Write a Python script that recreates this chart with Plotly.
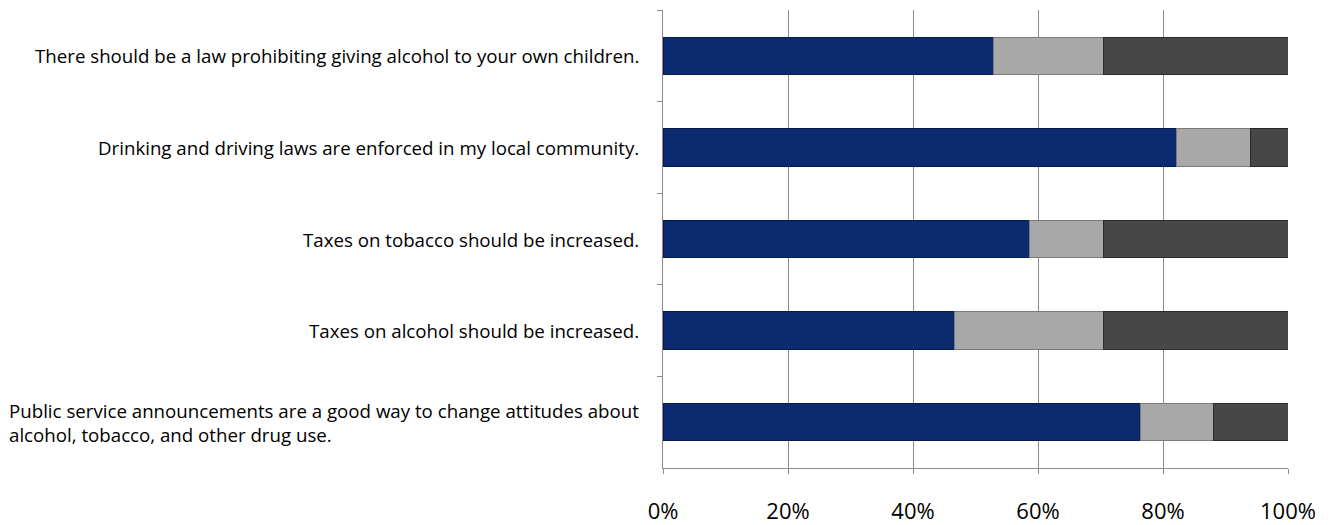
import plotly.graph_objects as go

categories = [
    "There should be a law prohibiting giving alcohol to your own children.",
    "Drinking and driving laws are enforced in my local community.",
    "Taxes on tobacco should be increased.",
    "Taxes on alcohol should be increased.",
    "Public service announcements are a good way to change attitudes about<br>alcohol, tobacco, and other drug use.",
]
series_names = ["Agree", "Neutral", "Disagree"]
agree = [52.8, 82.1, 58.6, 46.7, 76.4]
neutral = [17.6, 11.9, 11.8, 23.7, 11.7]
disagree = [29.6, 6.0, 29.6, 29.6, 11.9]
tick_vals = [0, 20, 40, 60, 80, 100]
tick_text = ["0%", "20%", "40%", "60%", "80%", "100%"]

colors = ["#0B2A6F", "#A8A8A8", "#474747"]
borders = ["#061a4a", "#7a7a7a", "#2a2a2a"]

fig = go.Figure()
for name, vals, c, b in zip(series_names, [agree, neutral, disagree], colors, borders):
    fig.add_trace(go.Bar(
        y=categories, x=vals, name=name, orientation="h",
        marker=dict(color=c, line=dict(color=b, width=1)),
        width=0.41,
    ))

for cat in categories:
    fig.add_annotation(
        x=0, xref="paper", xshift=-22, xanchor="right",
        y=cat, yref="y", yanchor="middle",
        text=cat, showarrow=False, align="left",
        font=dict(family="Open Sans, sans-serif", size=18.7, color="#000000"),
    )

fig.update_layout(
    width=1314, height=517,
    barmode="stack",
    showlegend=False,
    plot_bgcolor="white", paper_bgcolor="white",
    margin=dict(l=655, r=34, t=2, b=57, autoexpand=False),
    bargap=0.59,
)
fig.update_xaxes(
    range=[0, 100], tickvals=tick_vals, ticktext=tick_text,
    showgrid=True, gridcolor="#8C8C8C", gridwidth=1,
    showline=True, linecolor="#8C8C8C", linewidth=1,
    ticks="outside", ticklen=5, tickcolor="#8C8C8C",
    ticklabelstandoff=19, automargin=False,
    tickfont=dict(family="Open Sans, sans-serif", size=22, color="#000000"),
    zeroline=False, fixedrange=True,
)
fig.update_yaxes(
    autorange="reversed", showticklabels=False, automargin=False,
    showline=True, linecolor="#8C8C8C", linewidth=1,
    ticks="outside", ticklen=5, tickcolor="#8C8C8C", tickson="boundaries",
    showgrid=False, fixedrange=True,
)

fig.write_html("out.html")
